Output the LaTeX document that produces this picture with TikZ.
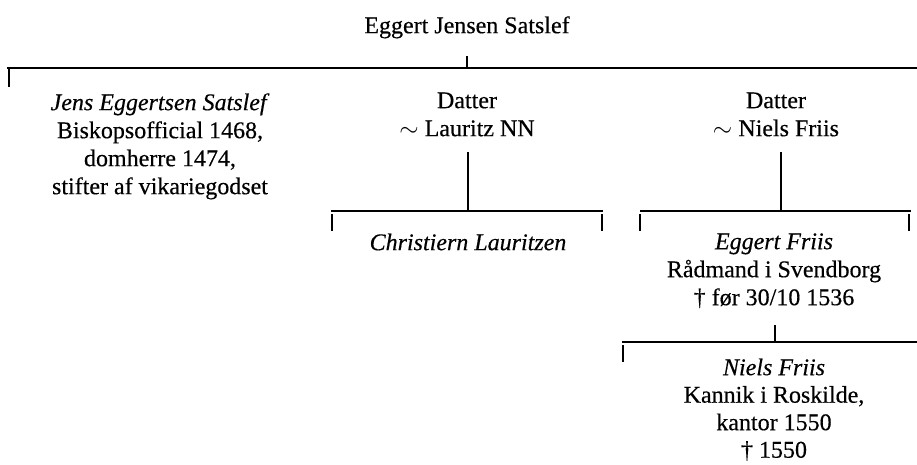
\documentclass[tikz,border=0pt]{standalone}
\usepackage{fontspec}
\setmainfont{Liberation Serif}[FakeBold=0.5]
\newcommand{\treefont}{\fontsize{24}{28}\selectfont\addfontfeatures{FakeBold=0.4}}
\newcommand{\lowfont}{\fontsize{24}{27.5}\selectfont\addfontfeatures{FakeBold=0.4}}
\tikzset{
  person/.style={anchor=north, inner sep=0pt, align=center, font=\treefont},
  rule/.style={line width=1.4pt},
}
\begin{document}
\begin{tikzpicture}[x=1pt,y=-1pt]
\useasboundingbox (0,0) rectangle (917,465);
% persons (anchor north = baseline - 0.7 baselineskip)
\node[person] (root)   at (467,13.4)  {\strut Eggert Jensen Satslef};
\node[person] (jens)   at (160,90.4)  {\strut\textit{Jens Eggertsen Satslef}\\Biskopsofficial 1468,\\domherre 1474,\\stifter af vikariegodset};
\node[person] (datA)   at (467,88.4)  {\strut Datter\\$\sim$ Lauritz NN};
\node[person] (datB)   at (776,88.4)  {\strut Datter\\$\sim$ Niels Friis};
\node[person] (christ) at (468,230.4) {\strut\textit{Christiern Lauritzen}};
\node[person] (eggert) at (774,229.4) {\strut\textit{Eggert Friis}\\Rådmand i Svendborg\\† før 30/10 1536};
\node[person, font=\lowfont] (niels) at (774,355.75) {\strut\textit{Niels Friis}\\Kannik i Roskilde,\\kantor 1550\\† 1550};
% junction coordinates
\coordinate (rootdrop) at (467,56);
\coordinate (topbarL) at (7,68);
\coordinate (topbarR) at (917,68);
\coordinate (topbarM) at (467,68);
\coordinate (jenstickA) at (9,68);
\coordinate (jenstickB) at (9,87);
\coordinate (datAdrop) at (468,152);
\coordinate (barAM) at (468,211);
\coordinate (barAL) at (331,211);
\coordinate (barAR) at (603,211);
\coordinate (datBdrop) at (781,152);
\coordinate (barBM) at (781,211);
\coordinate (barBL) at (640,211);
\coordinate (barBR) at (911,211);
\coordinate (eggdrop) at (775,325);
\coordinate (barCM) at (775,342);
\coordinate (barCL) at (622,342);
\coordinate (barCR) at (917,342);
% connectors
\draw[rule] (rootdrop) -- (topbarM);
\draw[rule] (topbarL) -- (topbarR);
\draw[rule] (jenstickA) -- (jenstickB);
\draw[rule] (datAdrop) -- (barAM);
\draw[rule] (barAL) -- (barAR);
\draw[rule] (332,214) -- (332,231);
\draw[rule] (602,214) -- (602,231);
\draw[rule] (datBdrop) -- (barBM);
\draw[rule] (barBL) -- (barBR);
\draw[rule] (640,214) -- (640,231);
\draw[rule] (909,214) -- (909,231);
\draw[rule] (eggdrop) -- (barCM);
\draw[rule] (barCL) -- (barCR);
\draw[rule] (623,345) -- (623,362);
\end{tikzpicture}
\end{document}
